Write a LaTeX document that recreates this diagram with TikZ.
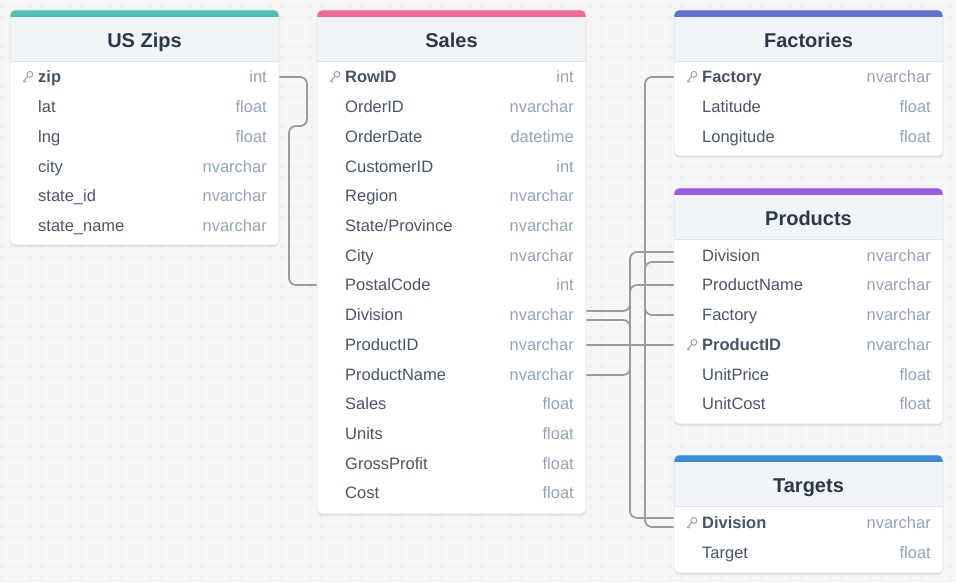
\documentclass[tikz,border=0pt]{standalone}
\usepackage{fontspec}
\setmainfont{Liberation Sans}
\usetikzlibrary{shadows}
\pgfdeclarelayer{bgl}
\pgfdeclarelayer{back}
\pgfsetlayers{bgl,back,main}
\definecolor{bg}{HTML}{F6F6F6}
\definecolor{dotc}{HTML}{C8C8C8}
\definecolor{hdr}{HTML}{F1F5F9}
\definecolor{sepc}{HTML}{DCE3EB}
\definecolor{bordc}{HTML}{E4E4E4}
\definecolor{ttlc}{HTML}{2D3748}
\definecolor{fldc}{HTML}{4A5568}
\definecolor{keyf}{HTML}{475467}
\definecolor{typc}{HTML}{94A3B8}
\definecolor{keyc}{HTML}{98A2B0}
\definecolor{wirec}{HTML}{9B9B9B}
\definecolor{cZip}{HTML}{4FC1B3}
\definecolor{cSales}{HTML}{F1689A}
\definecolor{cFac}{HTML}{6371D1}
\definecolor{cProd}{HTML}{9A5CE4}
\definecolor{cTgt}{HTML}{3A8DDC}
\tikzset{
  tablebox/.style={fill=white, minimum width=269pt, inner sep=0pt, rounded corners=5pt,
    drop shadow={shadow xshift=0pt, shadow yshift=-1.5pt, opacity=0.10, fill=black}},
  ttl/.style={anchor=base, text=ttlc, font=\fontsize{20}{23}\selectfont\bfseries, inner sep=0pt},
  fname/.style={anchor=base west, text=fldc, font=\fontsize{16.5}{19}\selectfont, inner sep=0pt},
  kname/.style={anchor=base west, text=keyf, font=\fontsize{16.5}{19}\selectfont\bfseries, inner sep=0pt},
  ftype/.style={anchor=base east, text=typc, font=\fontsize{16.5}{19}\selectfont, inner sep=0pt},
  wire/.style={draw=wirec, line width=1.8pt, rounded corners=7pt},
}
\newcommand\ertable[6]{% id, left, top, bottom, color, title
  \node[tablebox, minimum height={#4-#3}, anchor=north west] (#1) at (#2,#3) {};
  \begin{scope}
    \clip[rounded corners=5pt] (#2,#3) rectangle (#2+269,#4);
    \fill[hdr] (#2,#3) rectangle (#2+269,#3+51);
    \fill[#5] (#2,#3) rectangle (#2+269,#3+6.5);
    \draw[sepc, line width=1pt] (#2,#3+51) -- (#2+269,#3+51);
  \end{scope}
  \draw[bordc, line width=0.6pt, rounded corners=5pt] (#2,#3) rectangle (#2+269,#4);
  \node[ttl] (#1-title) at (#2+134.5,#3+37) {#6};
}
\newcommand\erow[5]{% id, left, y, name, type
  \node[fname] (#1) at (#2+28,#3+5.8) {#4};
  \node[ftype] (#1-type) at (#2+257,#3+5.8) {#5};
  \coordinate (#1-L) at (#2,#3);
  \coordinate (#1-R) at (#2+269,#3);
}
\newcommand\keyicon[2]{%
  \draw[keyc, line width=1pt] (#1+2.4,#2-2.6) circle (2.9);
  \draw[keyc, line width=1pt, line cap=round] (#1+0.3,#2-0.5) -- (#1-4.2,#2+4.6)
     (#1-3.2,#2+3.6) -- (#1-1.8,#2+5);
}
\newcommand\ekrow[5]{%
  \keyicon{#2+17.5}{#3}
  \node[kname] (#1) at (#2+28,#3+5.8) {#4};
  \node[ftype] (#1-type) at (#2+257,#3+5.8) {#5};
  \coordinate (#1-L) at (#2,#3);
  \coordinate (#1-R) at (#2+269,#3);
}
\begin{document}
\begin{tikzpicture}[x=1pt,y=-1pt]
\useasboundingbox (0,0) rectangle (956,582);
\begin{pgfonlayer}{bgl}
\fill[bg] (0,0) rectangle (956,582);
\foreach \x in {1,11,...,951}{
  \foreach \y in {7,17,...,577}{
    \fill[dotc] (\x,\y) circle (0.6);
  }
}
\end{pgfonlayer}
% US Zips
\ertable{zips}{10}{10}{245}{cZip}{US Zips}
\ekrow{z1}{10}{77}{zip}{int}
\erow{z2}{10}{107}{lat}{float}
\erow{z3}{10}{137}{lng}{float}
\erow{z4}{10}{167}{city}{nvarchar}
\erow{z5}{10}{196}{state\_id}{nvarchar}
\erow{z6}{10}{226}{state\_name}{nvarchar}
% Sales
\ertable{sales}{317}{10}{514}{cSales}{Sales}
\ekrow{s1}{317}{77}{RowID}{int}
\erow{s2}{317}{107}{OrderID}{nvarchar}
\erow{s3}{317}{137}{OrderDate}{datetime}
\erow{s4}{317}{167}{CustomerID}{int}
\erow{s5}{317}{196}{Region}{nvarchar}
\erow{s6}{317}{226}{State/Province}{nvarchar}
\erow{s7}{317}{256}{City}{nvarchar}
\erow{s8}{317}{285}{PostalCode}{int}
\erow{s9}{317}{315}{Division}{nvarchar}
\erow{s10}{317}{345}{ProductID}{nvarchar}
\erow{s11}{317}{375}{ProductName}{nvarchar}
\erow{s12}{317}{404}{Sales}{float}
\erow{s13}{317}{434}{Units}{float}
\erow{s14}{317}{464}{GrossProfit}{float}
\erow{s15}{317}{493}{Cost}{float}
% Factories
\ertable{fac}{674}{10}{156}{cFac}{Factories}
\ekrow{f1}{674}{77}{Factory}{nvarchar}
\erow{f2}{674}{107}{Latitude}{float}
\erow{f3}{674}{137}{Longitude}{float}
% Products
\ertable{prod}{674}{188}{424}{cProd}{Products}
\erow{p1}{674}{256}{Division}{nvarchar}
\erow{p2}{674}{285}{ProductName}{nvarchar}
\erow{p3}{674}{315}{Factory}{nvarchar}
\ekrow{p4}{674}{345}{ProductID}{nvarchar}
\erow{p5}{674}{375}{UnitPrice}{float}
\erow{p6}{674}{404}{UnitCost}{float}
% Targets
\ertable{tgt}{674}{455}{573}{cTgt}{Targets}
\ekrow{t1}{674}{523}{Division}{nvarchar}
\erow{t2}{674}{553}{Target}{float}
% ---------- connectors ----------
\begin{pgfonlayer}{back}
\draw[wire] (z1-R) -- ++(28,0) -- ++(0,49) -- ++(-18,0) |- (s8-L);
\draw[wire] ([yshift=4pt]s9-R) -| (630,252) -- ([yshift=4pt]p1-L);
\draw[wire] ([yshift=-5pt]s9-R) -| (630,518) -- ([yshift=5pt]t1-L);
\draw[wire] (s11-R) -| (630,285) -- (p2-L);
\draw[wire] (s10-R) -- (p4-L);
\draw[wire] ([yshift=-6pt]p1-L) -| (645,527) -- ([yshift=-4pt]t1-L);
\draw[wire] (f1-L) -| (645,315) -- (p3-L);
\end{pgfonlayer}
\end{tikzpicture}
\end{document}
